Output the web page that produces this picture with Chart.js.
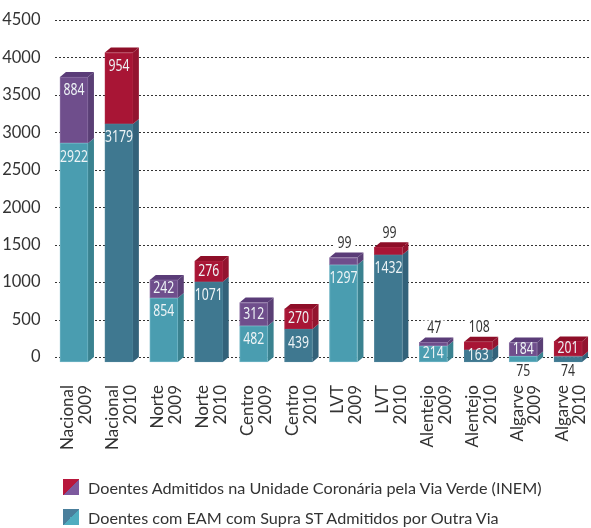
<!DOCTYPE html>
<html>
<head>
<meta charset="utf-8">
<script src="https://cdn.jsdelivr.net/npm/chart.js@4"></script>
<style>
  html, body { margin: 0; padding: 0; background: #fff; }
  #wrap { position: relative; width: 591px; height: 528px; overflow: hidden; }
  .leg { position: absolute; left: 63px; height: 16px; display: flex; align-items: center;
         font: 16.2px Lato, sans-serif; color: #333; white-space: nowrap; }
  .leg i { display: block; width: 16px; height: 16px; margin-right: 9px; }
</style>
</head>
<body>
<div id="wrap">
  <canvas id="chart" width="591" height="528"></canvas>
  <div class="leg" style="top:479px"><i style="background:linear-gradient(135deg,#b8173c 50%,#7d5a9e 50%)"></i><span id="leg0"></span></div>
  <div class="leg" style="top:509px"><i style="background:linear-gradient(135deg,#4a7f9c 50%,#4fadc0 50%)"></i><span id="leg1"></span></div>
</div>
<script>
// Data
const regions = ['Nacional', 'Nacional', 'Norte', 'Norte', 'Centro', 'Centro', 'LVT', 'LVT', 'Alentejo', 'Alentejo', 'Algarve', 'Algarve'];
const years = ['2009', '2010', '2009', '2010', '2009', '2010', '2009', '2010', '2009', '2010', '2009', '2010'];
const outraVia = [2922, 3179, 854, 1071, 482, 439, 1297, 1432, 214, 163, 75, 74];
const viaVerde = [884, 954, 242, 276, 312, 270, 99, 99, 47, 108, 184, 201];
const legendLabels = [
  'Doentes Admitidos na Unidade Coronária pela Via Verde (INEM)',
  'Doentes com EAM com Supra ST Admitidos por Outra Via'
];

// Colours: [2009, 2010]
const bottomFront = ['#4a9db0', '#3f7890'];
const bottomEdge = ['#6fb4c4', '#4a8097'];
const bottomSide = ['#3a8290', '#33627a'];
const topFront = ['#6f4e8c', '#a81535'];
const topEdge = ['#8a6fa3', '#ad2340'];
const topSide = ['#5a3f75', '#93142f'];
const topCap = ['#5a3c78', '#8e0e28'];

const byYear = list => regions.map((_, i) => list[i % 2]);
const DEPTH_X = 6, DEPTH_Y = 5, FRONT_DROP = 5;
const LABEL_FONT = '15.5px "Noto Sans", sans-serif';
const DIGIT_W = 7; // value labels are condensed in the original

function face(ctx, color, pts) {
  ctx.fillStyle = color;
  ctx.beginPath();
  pts.forEach((p, i) => i ? ctx.lineTo(p[0], p[1]) : ctx.moveTo(p[0], p[1]));
  ctx.closePath();
  ctx.fill();
}

// Dashed grid, 3D faces and value labels are drawn around the normal bars
const bar3d = {
  id: 'bar3d',
  beforeDatasetsDraw(chart) {
    const ctx = chart.ctx, y = chart.scales.y;
    ctx.save();
    ctx.strokeStyle = '#333';
    ctx.lineWidth = 1;
    ctx.setLineDash([2, 2]);
    y.ticks.forEach(t => {
      const py = Math.round(y.getPixelForValue(t.value)) + 0.5;
      ctx.beginPath();
      ctx.moveTo(55, py);
      ctx.lineTo(chart.width, py);
      ctx.stroke();
    });
    ctx.restore();
    // fronts sit a little below and left of the back plane
    ctx.save();
    ctx.translate(0, FRONT_DROP);
    chart.getDatasetMeta(0).data.forEach((bar, i) => {
      const top = chart.getDatasetMeta(1).data[i];
      const r = bar.x + bar.width / 2, l = bar.x - bar.width / 2;
      const c = i % 2;
      face(ctx, bottomSide[c], [[r, bar.y], [r + DEPTH_X, bar.y - DEPTH_Y], [r + DEPTH_X, bar.base - DEPTH_Y], [r, bar.base]]);
      face(ctx, topSide[c], [[r, top.y], [r + DEPTH_X, top.y - DEPTH_Y], [r + DEPTH_X, top.base - DEPTH_Y], [r, top.base]]);
      face(ctx, topCap[c], [[l, top.y], [l + DEPTH_X, top.y - DEPTH_Y], [r + DEPTH_X, top.y - DEPTH_Y], [r, top.y]]);
    });
  },
  afterDatasetsDraw(chart) {
    const ctx = chart.ctx;
    ctx.restore();
    ctx.save();
    ctx.font = LABEL_FONT;
    ctx.textAlign = 'center';
    ctx.textBaseline = 'middle';
    chart.getDatasetMeta(0).data.forEach((bar, i) => {
      const top = chart.getDatasetMeta(1).data[i];
      const put = (value, x, y) => ctx.fillText(value, x, y, String(value).length * DIGIT_W);
      const inner = (value, seg) => {
        const h = seg.base - seg.y;
        ctx.fillStyle = '#eef4f6';
        put(value, seg.x, seg.y + FRONT_DROP + Math.min(14, h / 2));
      };
      const outer = (value, x, y) => {
        const w = String(value).length * DIGIT_W + 8;
        ctx.fillStyle = '#fff';
        ctx.fillRect(x - w / 2, y - 8, w, 16);
        ctx.fillStyle = '#333';
        put(value, x, y);
      };
      if (outraVia[i] < 100) outer(outraVia[i], bar.x, bar.base + FRONT_DROP + 10);
      else inner(outraVia[i], bar);
      if (viaVerde[i] < 120) outer(viaVerde[i], top.x + 1, top.y + FRONT_DROP - 14);
      else inner(viaVerde[i], top);
    });
    ctx.restore();
  }
};

document.getElementById('leg0').textContent = legendLabels[0];
document.getElementById('leg1').textContent = legendLabels[1];

new Chart(document.getElementById('chart').getContext('2d'), {
  type: 'bar',
  data: {
    labels: regions.map((r, i) => [r, years[i]]),
    datasets: [
      { label: legendLabels[1], data: outraVia, backgroundColor: byYear(bottomFront), borderColor: byYear(bottomEdge), clip: false },
      { label: legendLabels[0], data: viaVerde, backgroundColor: byYear(topFront), borderColor: byYear(topEdge), clip: false }
    ]
  },
  options: {
    responsive: false,
    animation: false,
    layout: { padding: { top: 20, right: 0.5, left: 0, bottom: 0 } },
    datasets: { bar: { barThickness: 28, borderWidth: 1, borderSkipped: false } },
    plugins: { legend: { display: false }, tooltip: { enabled: false } },
    scales: {
      x: {
        stacked: true,
        border: { display: false },
        grid: { display: false },
        afterFit(s) { s.height = 171; s.paddingLeft = 0; s.paddingRight = 0; },
        ticks: {
          autoSkip: false, minRotation: 90, maxRotation: 90, padding: 20, labelOffset: -6,
          color: '#333', font: { family: 'Lato, sans-serif', size: 17, lineHeight: 1.05 }
        }
      },
      y: {
        stacked: true,
        min: 0,
        max: 4500,
        border: { display: false },
        grid: { display: false },
        afterFit(s) { s.width = 51.5; },
        ticks: {
          stepSize: 500, padding: 3, callback: v => String(v),
          color: '#333', font: { family: 'Lato, sans-serif', size: 16.5 }
        }
      }
    }
  },
  plugins: [bar3d]
});
</script>
</body>
</html>
